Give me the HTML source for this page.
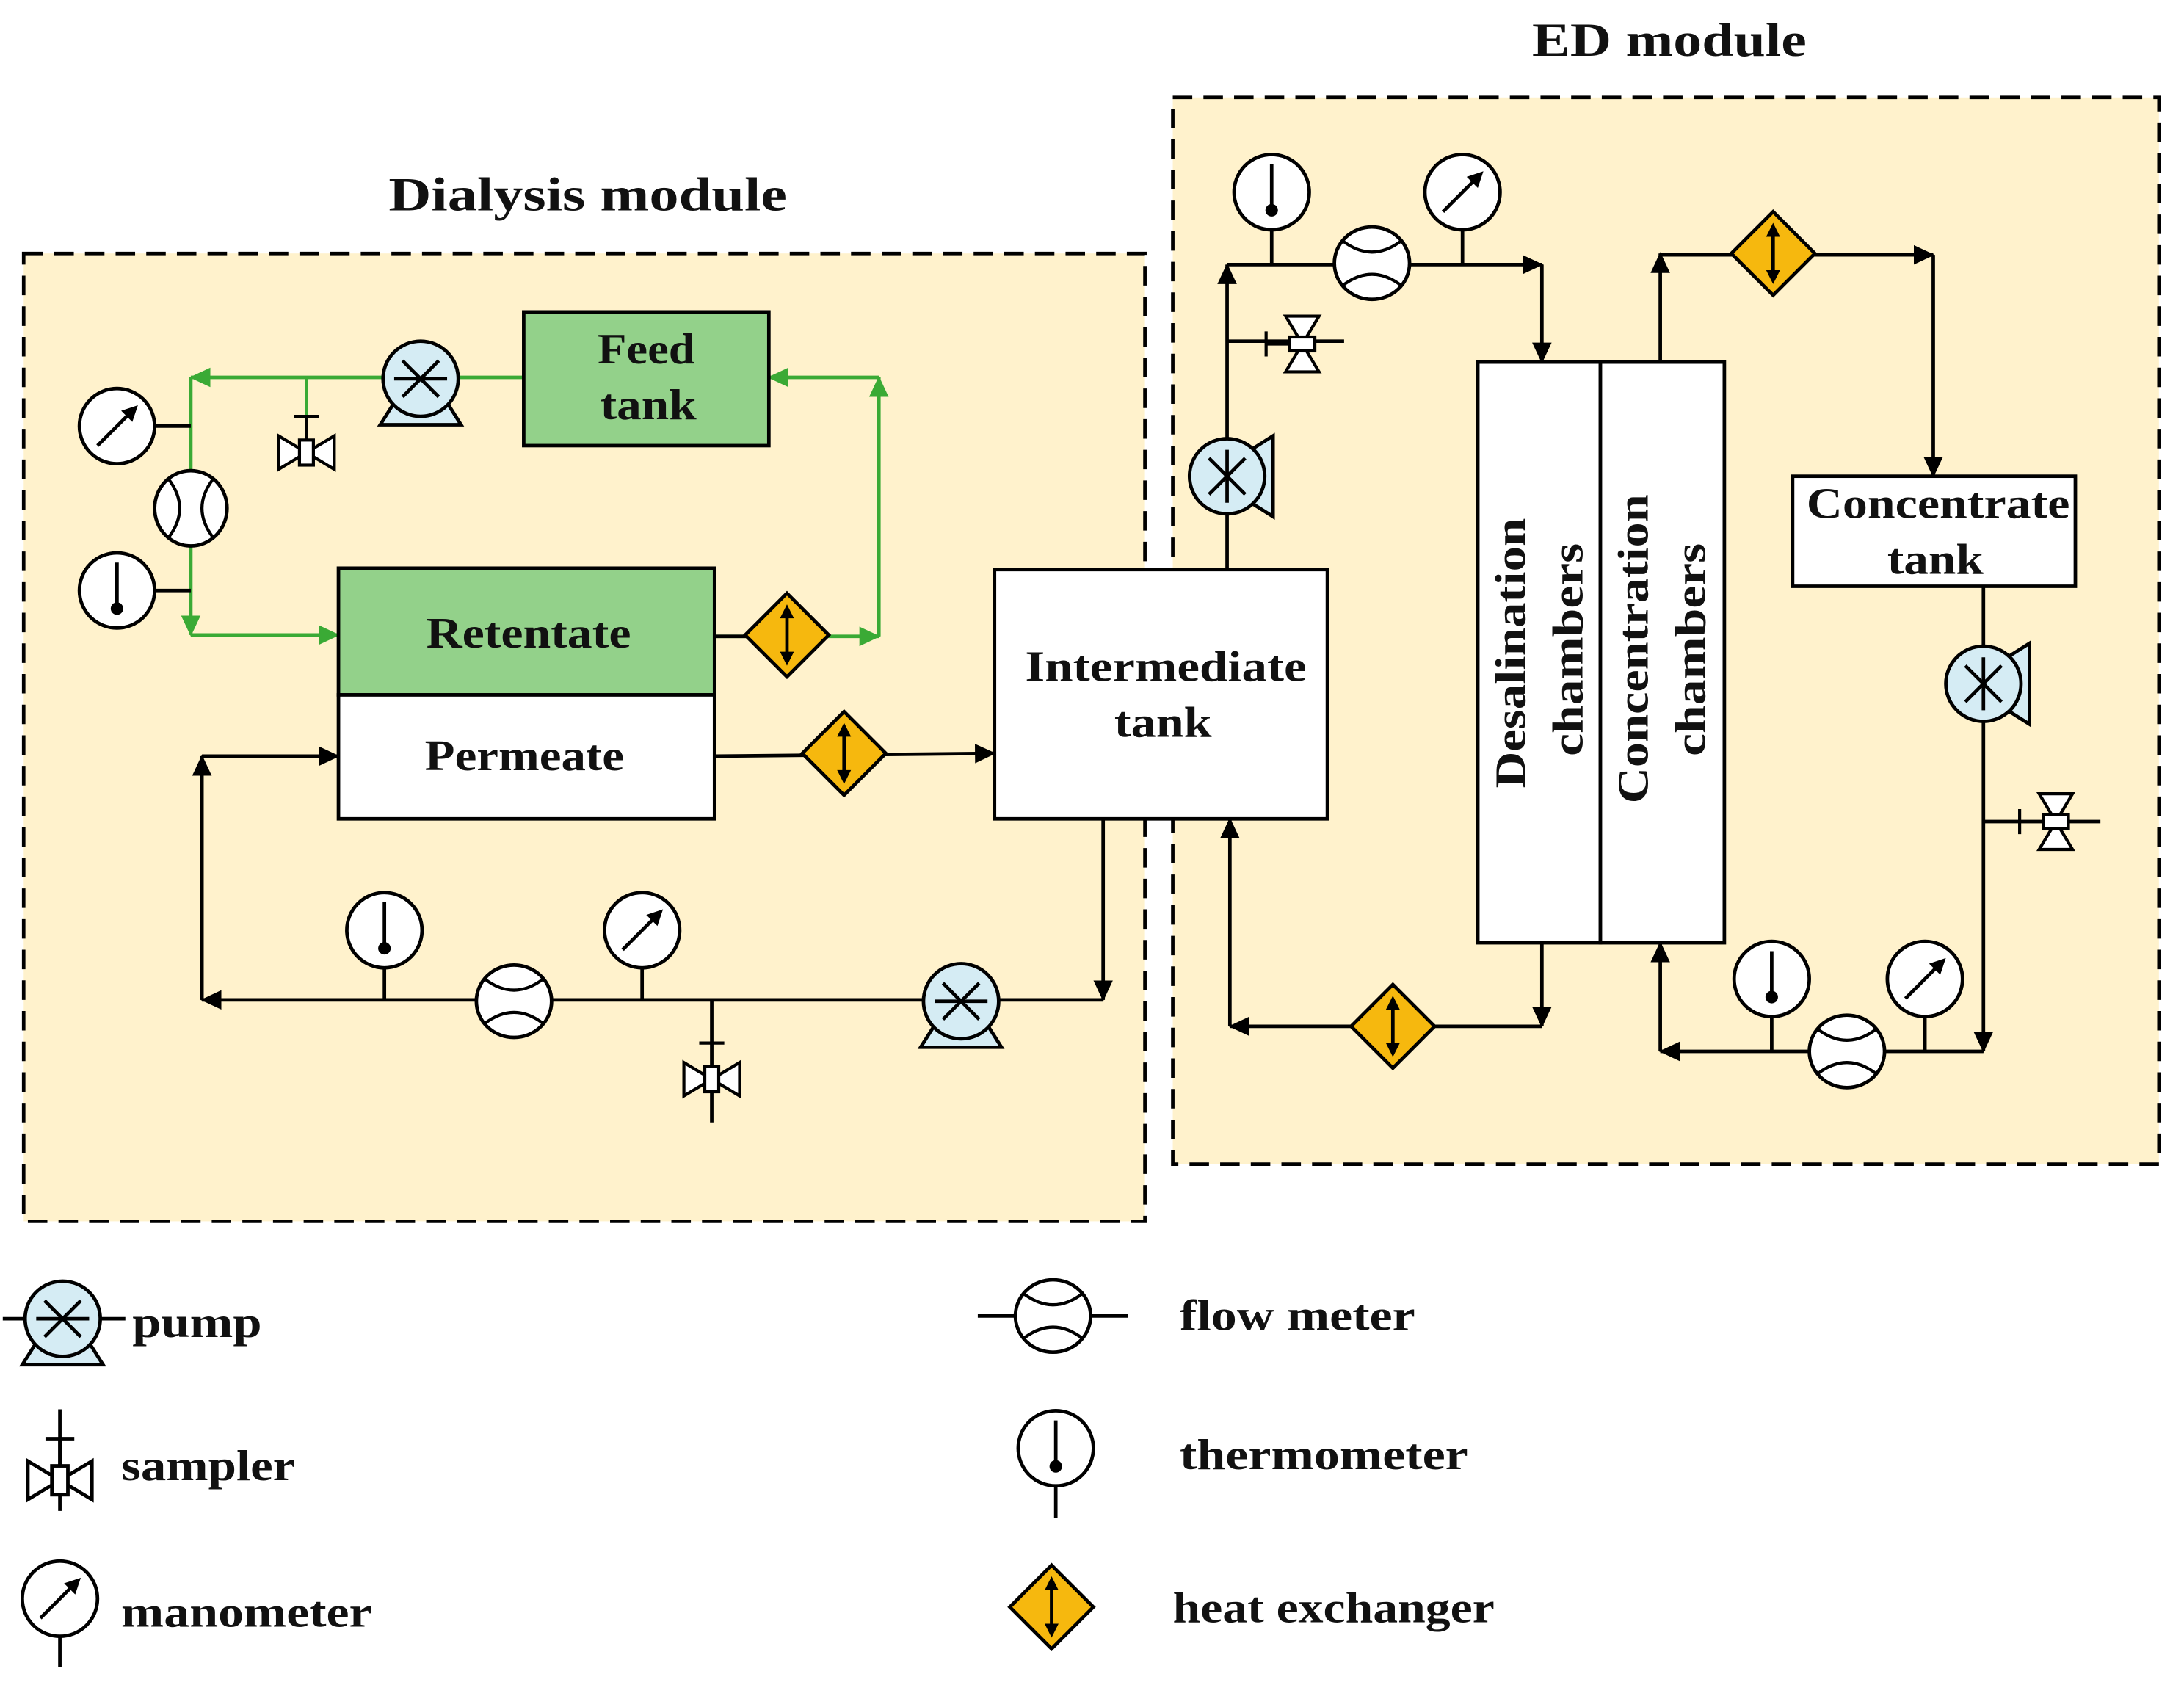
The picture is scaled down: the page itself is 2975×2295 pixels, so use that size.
<!DOCTYPE html>
<html><head><meta charset="utf-8"><style>
html,body{margin:0;padding:0;background:#fff}
svg{display:block}
text{font-family:"Liberation Serif",serif;font-weight:bold;fill:#111}
</style></head><body>
<svg width="2975" height="2295" viewBox="0 0 1568 1210" preserveAspectRatio="none" xmlns="http://www.w3.org/2000/svg">
<defs>
<marker id="ab" markerUnits="userSpaceOnUse" markerWidth="16" markerHeight="16" refX="14" refY="8" orient="auto"><path d="M0,1 L15,8 L0,15Z" fill="#000"/></marker>
<marker id="ag" markerUnits="userSpaceOnUse" markerWidth="16" markerHeight="16" refX="14" refY="8" orient="auto"><path d="M0,1 L15,8 L0,15Z" fill="#3aaa35"/></marker>
<g id="thermo"><circle r="27" fill="#fff" stroke="#000" stroke-width="2.5"/><line x1="0" y1="-20" x2="0" y2="12" stroke="#000" stroke-width="2.5"/><circle cy="13" r="4.5" fill="#000"/></g>
<g id="mano"><circle r="27" fill="#fff" stroke="#000" stroke-width="2.5"/><line x1="-14" y1="14" x2="9" y2="-9" stroke="#000" stroke-width="2.5"/><path d="M15,-15 L3,-11 L11,-3Z" fill="#000"/></g>
<g id="flow"><ellipse rx="27" ry="26" fill="#fff" stroke="#000" stroke-width="2.5"/><path d="M-21,-16 Q0,0 21,-16 M-21,16 Q0,0 21,16" fill="none" stroke="#000" stroke-width="2.2"/></g>
<g id="pump"><polygon points="-29,33 29,33 17,14 -17,14" fill="#d5ecf4" stroke="#000" stroke-width="2.5"/><circle r="27" fill="#d5ecf4" stroke="#000" stroke-width="2.5"/><path d="M-19,0 H19 M-13,-13 L13,13 M-13,13 L13,-13" stroke="#000" stroke-width="2.5"/></g>
<g id="hx"><polygon points="0,-30 30,0 0,30 -30,0" fill="#f6b80e" stroke="#000" stroke-width="2.5"/><line x1="0" y1="-18" x2="0" y2="18" stroke="#000" stroke-width="2.5"/><path d="M0,-22 L-5,-12 L5,-12Z M0,22 L-5,12 L5,12Z" fill="#000"/></g>
<g id="samp"><path d="M-20,-12 L0,0 L-20,12Z M20,-12 L0,0 L20,12Z" fill="#fff" stroke="#000" stroke-width="2.2"/><rect x="-5" y="-9" width="10" height="18" fill="#fff" stroke="#000" stroke-width="2.2"/><path d="M0,-9 V-26 M-9,-26 H9" stroke="#000" stroke-width="2.2"/></g>
</defs>

<rect x="17" y="182" width="805" height="695" fill="#fff2cc" stroke="#000" stroke-width="2.5" stroke-dasharray="14,8"/>
<rect x="842" y="70" width="708" height="766" fill="#fff2cc" stroke="#000" stroke-width="2.5" stroke-dasharray="14,8"/>
<text x="279" y="151" font-size="34" textLength="286" lengthAdjust="spacingAndGlyphs">Dialysis module</text>
<text x="1100" y="40" font-size="34" textLength="197" lengthAdjust="spacingAndGlyphs">ED module</text>

<g stroke="#3aaa35" stroke-width="2.5" fill="none">
<line x1="376" y1="271" x2="330" y2="271"/>
<line x1="275" y1="271" x2="137" y2="271" marker-end="url(#ag)"/>
<line x1="220" y1="271" x2="220" y2="328"/>
<line x1="137" y1="271" x2="137" y2="456" marker-end="url(#ag)"/>
<line x1="137" y1="456" x2="243" y2="456" marker-end="url(#ag)"/>
<line x1="513" y1="457" x2="631" y2="457" marker-end="url(#ag)"/>
<line x1="631" y1="457" x2="631" y2="271" marker-end="url(#ag)"/>
<line x1="631" y1="271" x2="552" y2="271" marker-end="url(#ag)"/>
</g>
<g stroke="#000" stroke-width="2.5" fill="none">
<line x1="110" y1="306" x2="137" y2="306"/>
<line x1="110" y1="424" x2="137" y2="424"/>
</g>
<use href="#mano" x="84" y="306"/>
<use href="#thermo" x="84" y="424"/>
<use href="#flow" transform="translate(137,365) rotate(90)"/>
<use href="#samp" x="220" y="325"/>
<use href="#pump" x="302" y="272"/>

<rect x="376" y="224" width="176" height="96" fill="#93d18a" stroke="#000" stroke-width="2.5"/>
<text x="429" y="261" font-size="31" textLength="70" lengthAdjust="spacingAndGlyphs">Feed</text>
<text x="431" y="301" font-size="31" textLength="69" lengthAdjust="spacingAndGlyphs">tank</text>
<rect x="243" y="408" width="270" height="91" fill="#93d18a" stroke="#000" stroke-width="2.5"/>
<rect x="243" y="499" width="270" height="89" fill="#fff" stroke="#000" stroke-width="2.5"/>
<text x="306" y="465" font-size="31" textLength="147" lengthAdjust="spacingAndGlyphs">Retentate</text>
<text x="305" y="553" font-size="31" textLength="143" lengthAdjust="spacingAndGlyphs">Permeate</text>
<rect x="714" y="409" width="239" height="179" fill="#fff" stroke="#000" stroke-width="2.5"/>
<text x="736" y="489" font-size="31" textLength="202" lengthAdjust="spacingAndGlyphs">Intermediate</text>
<text x="800" y="529" font-size="31" textLength="70" lengthAdjust="spacingAndGlyphs">tank</text>
<rect x="1061" y="260" width="88" height="417" fill="#fff" stroke="#000" stroke-width="2.5"/>
<rect x="1149" y="260" width="89" height="417" fill="#fff" stroke="#000" stroke-width="2.5"/>
<text transform="translate(1095,566) rotate(-90)" font-size="31" textLength="194" lengthAdjust="spacingAndGlyphs">Desalination</text>
<text transform="translate(1136,543) rotate(-90)" font-size="31" textLength="153" lengthAdjust="spacingAndGlyphs">chambers</text>
<text transform="translate(1183,577) rotate(-90)" font-size="31" textLength="222" lengthAdjust="spacingAndGlyphs">Concentration</text>
<text transform="translate(1224,543) rotate(-90)" font-size="31" textLength="153" lengthAdjust="spacingAndGlyphs">chambers</text>
<rect x="1287" y="342" width="203" height="79" fill="#fff" stroke="#000" stroke-width="2.5"/>
<text x="1297" y="372" font-size="31" textLength="189" lengthAdjust="spacingAndGlyphs">Concentrate</text>
<text x="1355" y="412" font-size="31" textLength="69" lengthAdjust="spacingAndGlyphs">tank</text>

<g stroke="#000" stroke-width="2.5" fill="none">
<line x1="513" y1="543" x2="714" y2="541" marker-end="url(#ab)"/>
<line x1="792" y1="588" x2="792" y2="718" marker-end="url(#ab)"/>
<line x1="792" y1="718" x2="145" y2="718" marker-end="url(#ab)"/>
<line x1="145" y1="718" x2="145" y2="543" marker-end="url(#ab)"/>
<line x1="145" y1="543" x2="243" y2="543" marker-end="url(#ab)"/>
<line x1="511" y1="718" x2="511" y2="806"/>
<line x1="461" y1="718" x2="461" y2="690"/>
<line x1="276" y1="718" x2="276" y2="690"/>
<line x1="513" y1="457" x2="540" y2="457"/>
</g>
<use href="#hx" x="565" y="456"/>
<use href="#hx" x="606" y="541"/>
<use href="#thermo" x="276" y="668"/>
<use href="#mano" x="461" y="668"/>
<use href="#flow" x="369" y="719"/>
<use href="#samp" x="511" y="775"/>
<use href="#pump" x="690" y="719"/>

<g stroke="#000" stroke-width="2.5" fill="none">
<line x1="881" y1="409" x2="881" y2="190" marker-end="url(#ab)"/>
<line x1="881" y1="245" x2="965" y2="245"/>
<line x1="881" y1="190" x2="1107" y2="190" marker-end="url(#ab)"/>
<line x1="1107" y1="190" x2="1107" y2="260" marker-end="url(#ab)"/>
<line x1="913" y1="190" x2="913" y2="160"/>
<line x1="1050" y1="190" x2="1050" y2="160"/>
<line x1="1192" y1="260" x2="1192" y2="182" marker-end="url(#ab)"/>
<line x1="1192" y1="183" x2="1388" y2="183" marker-end="url(#ab)"/>
<line x1="1388" y1="183" x2="1388" y2="342" marker-end="url(#ab)"/>
<line x1="1424" y1="421" x2="1424" y2="755" marker-end="url(#ab)"/>
<line x1="1424" y1="590" x2="1508" y2="590"/>
<line x1="1424" y1="755" x2="1192" y2="755" marker-end="url(#ab)"/>
<line x1="1192" y1="755" x2="1192" y2="677" marker-end="url(#ab)"/>
<line x1="1272" y1="755" x2="1272" y2="725"/>
<line x1="1382" y1="755" x2="1382" y2="725"/>
<line x1="1107" y1="677" x2="1107" y2="737" marker-end="url(#ab)"/>
<line x1="1107" y1="737" x2="883" y2="737" marker-end="url(#ab)"/>
<line x1="883" y1="737" x2="883" y2="588" marker-end="url(#ab)"/>
</g>
<use href="#pump" transform="translate(881,342) rotate(-90)"/>
<use href="#samp" transform="translate(935,247) rotate(-90)"/>
<use href="#thermo" x="913" y="138"/>
<use href="#flow" x="985" y="189"/>
<use href="#mano" x="1050" y="138"/>
<use href="#hx" x="1273" y="182"/>
<use href="#pump" transform="translate(1424,491) rotate(-90)"/>
<use href="#samp" transform="translate(1476,590) rotate(-90)"/>
<use href="#thermo" x="1272" y="703"/>
<use href="#flow" x="1326" y="755"/>
<use href="#mano" x="1382" y="703"/>
<use href="#hx" x="1000" y="737"/>

<g stroke="#000" stroke-width="2.5" fill="none">
<line x1="2" y1="947" x2="90" y2="947"/>
<line x1="43" y1="1012" x2="43" y2="1085"/>
<line x1="43" y1="1148" x2="43" y2="1197"/>
<line x1="702" y1="945" x2="810" y2="945"/>
<line x1="758" y1="1040" x2="758" y2="1090"/>
</g>
<use href="#pump" x="45" y="947"/>
<use href="#samp" transform="translate(43,1063) scale(1.15)"/>
<use href="#mano" x="43" y="1148"/>
<use href="#flow" x="756" y="945"/>
<use href="#thermo" x="758" y="1040"/>
<use href="#hx" x="755" y="1154"/>
<text x="95" y="960" font-size="31" textLength="93" lengthAdjust="spacingAndGlyphs">pump</text>
<text x="87" y="1063" font-size="31" textLength="125" lengthAdjust="spacingAndGlyphs">sampler</text>
<text x="87" y="1168" font-size="31" textLength="180" lengthAdjust="spacingAndGlyphs">manometer</text>
<text x="847" y="955" font-size="31" textLength="169" lengthAdjust="spacingAndGlyphs">flow meter</text>
<text x="847" y="1055" font-size="31" textLength="207" lengthAdjust="spacingAndGlyphs">thermometer</text>
<text x="842" y="1165" font-size="31" textLength="231" lengthAdjust="spacingAndGlyphs">heat exchanger</text>
</svg>
</body></html>
